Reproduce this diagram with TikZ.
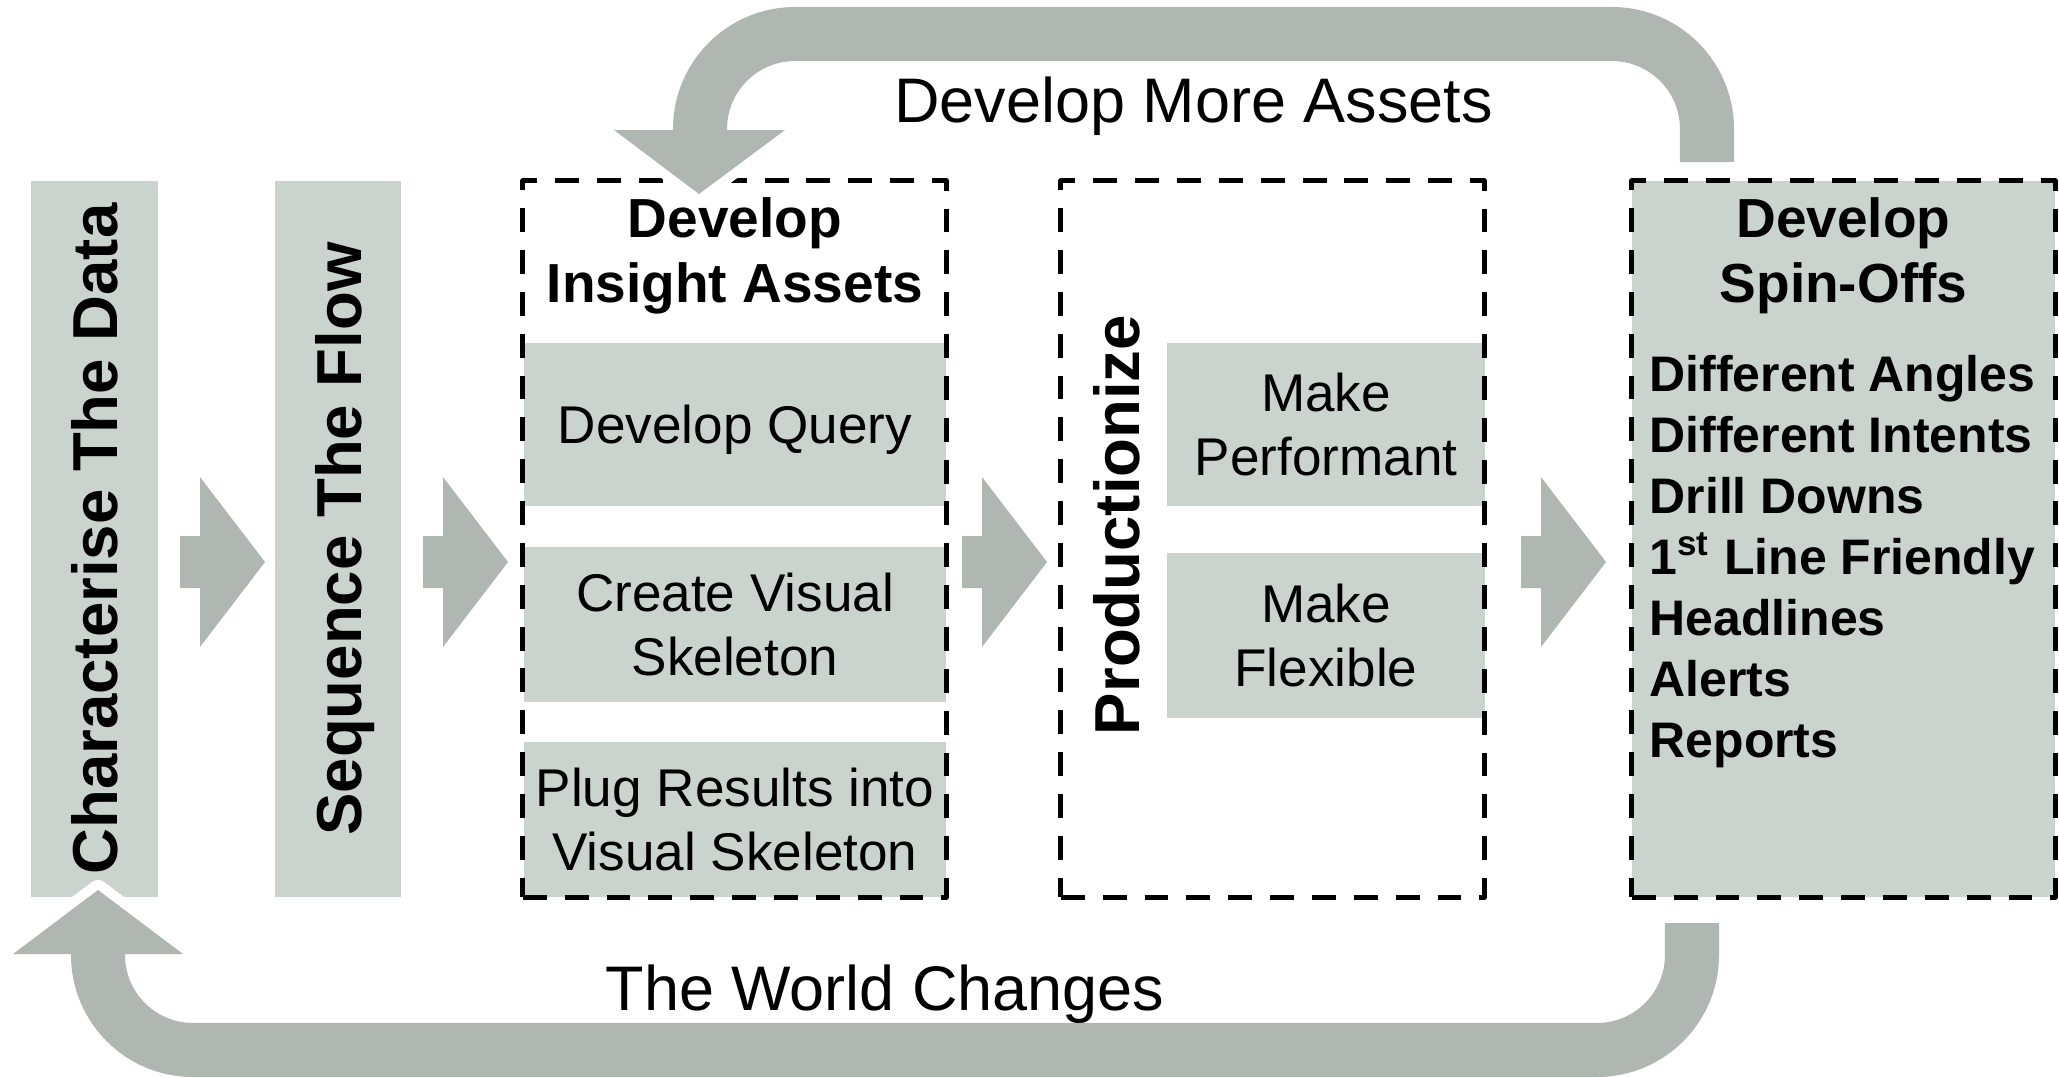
\documentclass[tikz,border=0pt]{standalone}
\usepackage{fontspec}
\setmainfont{Liberation Sans}
\definecolor{boxgray}{HTML}{CBD3CE}
\definecolor{arrowgray}{HTML}{B0B7B3}
\begin{document}
\begin{tikzpicture}[x=0.01cm,y=-0.01cm,line join=round,
		vtext/.style={rotate=90,inner sep=0pt,text depth=0pt,font=\fontsize{18.07}{21.7}\selectfont\bfseries},
		bar/.style={vtext,fill=boxgray,minimum width=7.16cm,minimum height=1.26cm},
		dashbox/.style={draw,line width=1.42pt,dash pattern=on 6.8pt off 5.1pt,minimum width=4.23cm,minimum height=7.16cm,inner sep=0pt},
		task/.style={fill=boxgray,minimum width=4.22cm,inner sep=0pt,align=center,font=\fontsize{15.1}{18.2}\selectfont},
		boxhead/.style={anchor=base,inner sep=0pt,font=\fontsize{15.65}{18.8}\selectfont\bfseries},
		spinitem/.style={anchor=base west,inner sep=0pt,font=\fontsize{14.2}{17}\selectfont\bfseries},
		looplabel/.style={anchor=base,inner sep=0pt,font=\fontsize{17.9}{21.5}\selectfont},
		glow/.style={draw=white,line width=#1}]
	\useasboundingbox (0,0) rectangle (2059,1078);
	\def\topshaft{(1707,162) -- (1707,34) -- (700,34) -- (700,130)}
	\def\tophead{(614,130) -- (785,130) -- (699,194) -- cycle}
	\def\botshaft{(1692,923) -- (1692,1050) -- (98,1050) -- (98,954)}
	\def\bothead{(13,954) -- (183,954) -- (98,890) -- cycle}
	% stages
	\node[bar] (chardata) at (94.5,539) {Characterise The Data};
	\node[bar] (seqflow) at (338,539) {Sequence The Flow};
	% insight assets
	\node[task,minimum height=1.63cm,text depth=0pt] (query) at (735,424.5) {Develop Query};
	\node[task,minimum height=1.55cm] (skeleton) at (735,624.5) {Create Visual\\Skeleton};
	\node[task,minimum height=1.55cm] (plug) at (735,819.5) {Plug Results into\\Visual Skeleton};
	\node[dashbox] (insight) at (734.5,539) {};
	% productionize
	\node[task,minimum width=3.18cm,minimum height=1.63cm] (perform) at (1326,424.5) {Make\\Performant};
	\node[task,minimum width=3.18cm,minimum height=1.65cm] (flexible) at (1326,635.5) {Make\\Flexible};
	\node[dashbox] (prod) at (1272.5,539) {};
	\node[vtext] (prodlabel) at (1116,525) {Productionize};
	% spin-offs
	\node[dashbox,fill=boxgray] (spin) at (1843.5,539) {};
	% arrows between stages
	\foreach \x in {180,423,962,1521}
		\fill[arrowgray,preaction={glow=0.2cm}] (\x,536) -- ++(20,0) -- ++(0,-59) -- (\x+85,562) -- (\x+20,647) -- ++(0,-59) -- (\x,588) -- cycle;
	% loops
	\draw[glow=0.74cm,rounded corners=0.95cm] \topshaft \botshaft;
	\draw[glow=0.2cm] \tophead \bothead;
	\draw[arrowgray,line width=0.54cm,rounded corners=0.95cm] \topshaft \botshaft;
	\fill[arrowgray] \tophead \bothead;
	\node[looplabel] (moreassets) at (1193.5,122) {Develop More Assets};
	\node[looplabel] (worldchanges) at (885,1010) {The World Changes};
	% headers
	\node[boxhead] (insighthead) at (735,237) {Develop};
	\node[boxhead] (insighttitle) at (735,302) {Insight Assets};
	\node[boxhead] (spinhead) at (1843.5,237) {Develop};
	\node[boxhead] (spintitle) at (1843.5,302) {Spin-Offs};
	\foreach \txt [count=\i] in {Different Angles,Different Intents,Drill Downs,1\textsuperscript{st} Line Friendly,Headlines,Alerts,Reports}
		\node[spinitem] (idea\i) at (1649,330+61*\i) {\txt};
\end{tikzpicture}
\end{document}
